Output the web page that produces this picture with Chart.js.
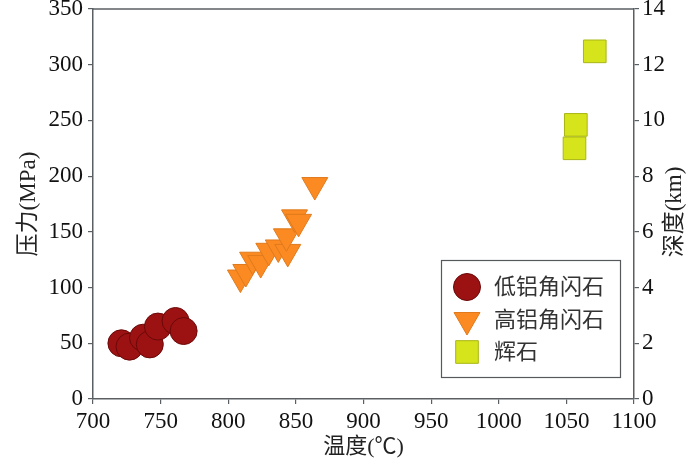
<!DOCTYPE html>
<html>
<head>
<meta charset="utf-8">
<script src="https://cdn.jsdelivr.net/npm/chart.js@4/dist/chart.umd.min.js"></script>
<style>
  body { margin: 0; background: #fff; }
  canvas { display: block; }
</style>
</head>
<body>
<canvas id="scatterChart" width="700" height="461"></canvas>
<script>
// temperature (°C) / pressure (MPa)
const lowAlTemp = [721, 727, 737, 742, 748, 761, 767];
const lowAlPres = [50, 47, 55, 49, 65, 70, 61];

const highAlTemp = [809, 813, 818, 824, 830, 837, 844, 843, 849, 852, 864];
const highAlPres = [109, 114, 125, 122, 133, 136, 132, 146, 163, 159, 192];

const pyxTemp = [1056, 1057, 1071];
const pyxPres = [225, 246, 312];

const seriesNames = ['低铝角闪石', '高铝角闪石', '辉石'];
const xTicks = [700, 750, 800, 850, 900, 950, 1000, 1050, 1100];
const yTicks = [0, 50, 100, 150, 200, 250, 300, 350];
const depthTicks = [0, 2, 4, 6, 8, 10, 12, 14];

const fontFamily = '"Liberation Serif", "Noto Sans CJK SC", serif';
const axisColor = '#5a5f63';

function toPoints(xs, ys) {
    return xs.map((x, i) => ({ x: x, y: ys[i] }));
}

// fixed axis sizes so the plot box lands where the original one is
function fixAxis(size, key) {
    return function (scale) {
        scale[key] = size;
        scale.paddingTop = 0;
        scale.paddingBottom = 0;
        scale.paddingLeft = 0;
        scale.paddingRight = 0;
    };
}

const plainLabel = (v) => String(v);

// box frame, legend inside the plot and the right axis title
const extras = {
    id: 'extras',
    afterDraw(chart) {
        const ctx = chart.ctx;
        const a = chart.chartArea;
        ctx.save();
        ctx.strokeStyle = axisColor;
        ctx.lineWidth = 1.5;
        ctx.beginPath();
        ctx.moveTo(a.left, a.top);
        ctx.lineTo(a.right, a.top);
        ctx.stroke();

        // legend
        ctx.fillStyle = '#fff';
        ctx.fillRect(441, 260, 179, 117);
        ctx.strokeStyle = '#55595c';
        ctx.lineWidth = 1.2;
        ctx.strokeRect(441.5, 260.5, 179, 117);

        const rows = [287, 320, 352];
        chart.data.datasets.forEach((ds, i) => {
            ctx.fillStyle = ds.backgroundColor;
            ctx.strokeStyle = ds.borderColor;
            ctx.lineWidth = ds.borderWidth;
            Chart.helpers.drawPoint(ctx, {
                pointStyle: ds.pointStyle,
                radius: ds.pointRadius,
                rotation: ds.pointRotation || 0,
                borderWidth: ds.borderWidth
            }, 467, rows[i]);
            ctx.fillStyle = '#333';
            ctx.font = '22px ' + fontFamily;
            ctx.textAlign = 'left';
            ctx.textBaseline = 'middle';
            ctx.fillText(ds.label, 494, rows[i] + 1);
        });

        // right title reads bottom to top like the left one
        ctx.translate(675, 212);
        ctx.rotate(-Math.PI / 2);
        ctx.fillStyle = '#222';
        ctx.font = '23px ' + fontFamily;
        ctx.textAlign = 'center';
        ctx.textBaseline = 'middle';
        ctx.fillText('深度(km)', 0, 0);
        ctx.restore();
    }
};

const ctx = document.getElementById('scatterChart').getContext('2d');

new Chart(ctx, {
    type: 'scatter',
    data: {
        datasets: [{
            label: seriesNames[0],
            data: toPoints(lowAlTemp, lowAlPres),
            pointStyle: 'circle',
            pointRadius: 13.5,
            backgroundColor: '#9c1212',
            borderColor: '#6a0808',
            borderWidth: 1,
            order: 1
        }, {
            label: seriesNames[1],
            data: toPoints(highAlTemp, highAlPres),
            pointStyle: 'triangle',
            pointRotation: 180,
            pointRadius: 15,
            backgroundColor: '#fb8a22',
            borderColor: '#e07a1c',
            borderWidth: 1,
            order: 2
        }, {
            label: seriesNames[2],
            data: toPoints(pyxTemp, pyxPres),
            pointStyle: 'rect',
            pointRadius: 16,
            backgroundColor: '#d6e41c',
            borderColor: '#a9b612',
            borderWidth: 1,
            order: 3
        }]
    },
    options: {
        responsive: false,
        animation: false,
        devicePixelRatio: 1,
        layout: { autoPadding: false, padding: { top: 9, left: 0, right: 0, bottom: 0 } },
        plugins: {
            legend: { display: false },
            tooltip: { enabled: false }
        },
        scales: {
            x: {
                type: 'linear',
                min: 700,
                max: 1100,
                afterBuildTicks: (s) => { s.ticks = xTicks.map(v => ({ value: v })); },
                afterFit: fixAxis(62, 'height'),
                grid: { drawOnChartArea: false, tickLength: 5, color: axisColor, lineWidth: 1.2 },
                border: { color: axisColor, width: 1.5 },
                ticks: { padding: 4, color: '#111', font: { family: fontFamily, size: 23 }, callback: plainLabel },
                title: {
                    display: true,
                    text: '温度(℃)',
                    color: '#222',
                    font: { family: fontFamily, size: 22 },
                    padding: { top: 0, bottom: 1 }
                }
            },
            y: {
                type: 'linear',
                position: 'left',
                min: 0,
                max: 350,
                afterBuildTicks: (s) => { s.ticks = yTicks.map(v => ({ value: v })); },
                afterFit: fixAxis(93, 'width'),
                grid: { drawOnChartArea: false, tickLength: 5, color: axisColor, lineWidth: 1.2 },
                border: { color: axisColor, width: 1.5 },
                ticks: { padding: 5, color: '#111', font: { family: fontFamily, size: 23 }, callback: plainLabel },
                title: {
                    display: true,
                    text: '压力(MPa)',
                    color: '#222',
                    font: { family: fontFamily, size: 23 },
                    padding: { top: 15, bottom: 0 }
                }
            },
            y2: {
                type: 'linear',
                position: 'right',
                min: 0,
                max: 14,
                afterBuildTicks: (s) => { s.ticks = depthTicks.map(v => ({ value: v })); },
                afterFit: fixAxis(66, 'width'),
                grid: { drawOnChartArea: false, tickLength: 5, color: axisColor, lineWidth: 1.2 },
                border: { color: axisColor, width: 1.5 },
                ticks: { padding: 3, color: '#111', font: { family: fontFamily, size: 23 }, callback: plainLabel }
            }
        }
    },
    plugins: [extras]
});
</script>
</body>
</html>
